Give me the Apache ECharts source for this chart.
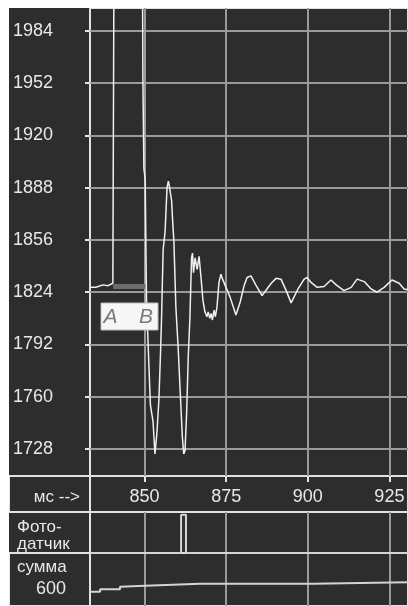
<!DOCTYPE html>
<html>
<head>
<meta charset="utf-8" />
<title>Осциллограмма</title>
<script src="https://cdn.jsdelivr.net/npm/echarts@6/dist/echarts.min.js"></script>
<style>
  html, body { margin: 0; padding: 0; background: #fff; }
  #main { position: absolute; left: 9px; top: 8px; width: 399px; height: 598px; }
</style>
</head>
<body>
<div id="main"></div>
<script type="text/javascript">
// axis ranges and ticks
var xMin = 833.3, xMax = 930.7;
var yMin = 1711.5, yMax = 1998;
var xTicks = [850, 875, 900, 925];
var yTicks = [1728, 1760, 1792, 1824, 1856, 1888, 1920, 1952, 1984];

// cursors A and B, level of the band between them
var cursorA = 840.4, cursorB = 850.7, bandLevel = 1827.5;

// main signal: [ms, value]
var signal = [
  [833.3, 1827], [835.1, 1827], [837.3, 1828.5], [838.8, 1828], [840.3, 1829.5],
  [840.6, 1830], [840.7, 2060], [849.3, 2060], [849.5, 1955], [849.8, 1900],
  [850.2, 1893], [850.6, 1820], [851.2, 1787], [851.8, 1755], [852.6, 1745],
  [853.2, 1725], [853.5, 1726], [853.8, 1738], [854.4, 1758], [854.9, 1787],
  [855.2, 1807], [855.7, 1850], [856.3, 1861], [856.6, 1875], [856.9, 1888],
  [857.3, 1892], [857.6, 1889], [858.0, 1890], [858.3, 1880], [858.6, 1868],
  [859.0, 1855], [859.6, 1815], [860.3, 1790], [861.0, 1760], [861.6, 1735],
  [862.0, 1725], [862.4, 1727], [862.9, 1750], [863.4, 1785], [863.9, 1808],
  [864.4, 1845], [864.7, 1848], [865.0, 1836], [865.5, 1845], [866.1, 1838],
  [866.7, 1846], [867.3, 1833], [867.9, 1819], [868.5, 1812], [869.1, 1809],
  [869.5, 1812], [870.0, 1808], [870.4, 1811], [870.8, 1807], [871.3, 1813],
  [871.7, 1809], [872.2, 1815], [872.8, 1830], [873.4, 1835], [873.9, 1832],
  [874.4, 1832.5], [876.2, 1821], [878.0, 1810], [879.3, 1818], [880.5, 1828],
  [881.4, 1833], [882.0, 1832], [882.6, 1834], [884.2, 1828], [886.0, 1822],
  [886.6, 1823.5], [888.8, 1829.5], [890.3, 1832.5], [891.8, 1832], [893.4, 1825],
  [894.9, 1817.5], [895.2, 1818], [897.0, 1826], [898.9, 1832], [899.8, 1833],
  [901.0, 1830], [902.9, 1827], [905.0, 1827.5], [907.1, 1831.5], [908.7, 1828.5],
  [911.1, 1825], [913.3, 1827], [915.1, 1832], [917.3, 1830.5], [919.4, 1826],
  [921.2, 1824], [923.4, 1827], [925.8, 1831.5], [928.0, 1829.5], [929.5, 1826],
  [930.7, 1825.5]
];

// photo sensor pulse
var photo = [[833.3, 0], [861.2, 0], [861.2, 0.93], [862.7, 0.93], [862.7, 0], [930.7, 0]];

// running sum
var sum = [
  [833.3, 162], [836.4, 162], [836.4, 189], [842.5, 189], [842.5, 218],
  [850.2, 230], [867.0, 252], [901.6, 252], [901.6, 268], [930.7, 268]
];

var FONT = 'Liberation Sans';
var gridColor = '#9a9a9a';
var frameColor = '#e2e2e2';
var textColor = '#e8e8e8';

var myChart = echarts.init(document.getElementById('main'));

function plainX(gi) {
  return {
    gridIndex: gi, type: 'value', min: xMin, max: xMax,
    axisLine: { show: false },
    axisTick: { show: false, customValues: xTicks },
    axisLabel: { show: false },
    splitLine: { show: true, lineStyle: { color: gridColor, width: 2 } }
  };
}

function plain(v) { return String(v); }

var decor = { show: true, borderColor: frameColor, borderWidth: 2, backgroundColor: 'transparent' };

var option = {
  backgroundColor: '#2d2d2d',
  animation: false,
  grid: [
    { left: 81, right: 0, top: 0, height: 468 },
    { left: 81, right: 0, top: 504, height: 41 },
    { left: 81, right: 0, top: 545, bottom: 0 },
    Object.assign({ left: -3, right: -3, top: 468, height: 36 }, decor),
    Object.assign({ left: -3, right: -3, top: 545, height: 60 }, decor),
    Object.assign({ left: 81, right: -3, top: -3, bottom: -3 }, decor)
  ],
  xAxis: [
    {
      gridIndex: 0, type: 'value', min: xMin, max: xMax,
      axisLine: { show: false },
      axisTick: { show: true, customValues: xTicks, length: 6, lineStyle: { color: frameColor, width: 2 } },
      axisLabel: { customValues: xTicks, formatter: plain, color: textColor, fontSize: 18, fontFamily: FONT, margin: 12 },
      splitLine: { show: true, lineStyle: { color: gridColor, width: 2 } }
    },
    plainX(1),
    plainX(2)
  ],
  yAxis: [
    {
      gridIndex: 0, type: 'value', min: yMin, max: yMax,
      axisLine: { show: false },
      axisTick: { show: true, customValues: yTicks, length: 5, lineStyle: { color: frameColor, width: 2 } },
      axisLabel: { customValues: yTicks, formatter: plain, color: textColor, fontSize: 18, fontFamily: FONT, margin: 37 },
      splitLine: { show: true, lineStyle: { color: gridColor, width: 2 } }
    },
    { gridIndex: 1, type: 'value', min: 0, max: 1, show: false },
    { gridIndex: 2, type: 'value', min: 0, max: 600, show: false }
  ],
  series: [
    {
      type: 'line', xAxisIndex: 0, yAxisIndex: 0, symbol: 'none', z: 2,
      data: [[cursorA, bandLevel], [cursorB, bandLevel]],
      lineStyle: { color: '#6c6c6c', width: 5 }
    },
    {
      type: 'line', xAxisIndex: 0, yAxisIndex: 0, symbol: 'none', z: 3,
      data: signal,
      lineStyle: { color: '#f0f0f0', width: 1.5 }
    },
    {
      type: 'line', xAxisIndex: 1, yAxisIndex: 1, symbol: 'none', z: 3,
      data: photo,
      lineStyle: { color: '#d4d4d4', width: 2 }
    },
    {
      type: 'line', xAxisIndex: 2, yAxisIndex: 2, symbol: 'none', z: 3,
      data: sum,
      lineStyle: { color: '#d4d4d4', width: 2 }
    }
  ],
  graphic: [
    { type: 'text', x: 71, y: 489, style: { text: 'мс -->', fill: textColor, font: '17px ' + FONT, align: 'right', verticalAlign: 'middle' } },
    { type: 'text', x: 8, y: 519, style: { text: 'Фото-', fill: textColor, font: '17px ' + FONT, align: 'left', verticalAlign: 'middle' } },
    { type: 'text', x: 8, y: 536, style: { text: 'датчик', fill: textColor, font: '17px ' + FONT, align: 'left', verticalAlign: 'middle' } },
    { type: 'text', x: 8, y: 559, style: { text: 'сумма', fill: textColor, font: '17px ' + FONT, align: 'left', verticalAlign: 'middle' } },
    { type: 'text', x: 42, y: 581, style: { text: '600', fill: textColor, font: '18px ' + FONT, align: 'center', verticalAlign: 'middle' } },
    { type: 'rect', z: 100, shape: { x: 92, y: 295, width: 57, height: 27 }, style: { fill: '#f6f6f6', stroke: '#bdbdbd', lineWidth: 1 } },
    { type: 'text', z: 101, x: 101.5, y: 309, style: { text: 'A', fill: '#7a7a7a', font: 'italic 21px ' + FONT, align: 'center', verticalAlign: 'middle' } },
    { type: 'text', z: 101, x: 137, y: 309, style: { text: 'B', fill: '#7a7a7a', font: 'italic 21px ' + FONT, align: 'center', verticalAlign: 'middle' } }
  ]
};

myChart.setOption(option);
</script>
</body>
</html>
